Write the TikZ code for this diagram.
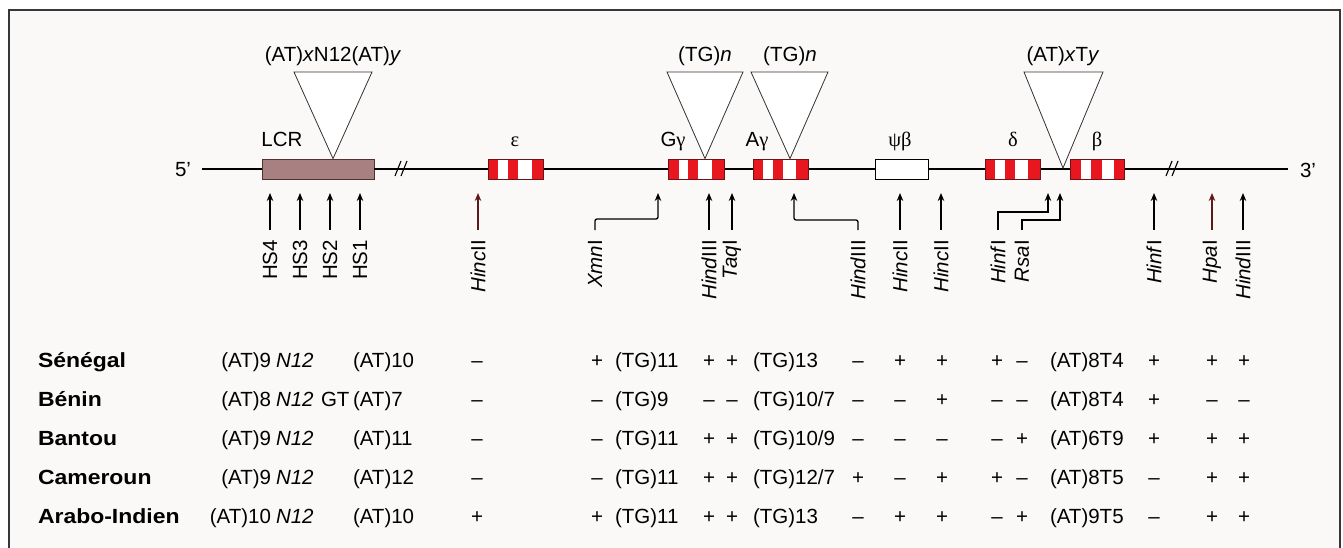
\documentclass[tikz,border=0pt]{standalone}
\usepackage{fontspec}
\setmainfont{Liberation Sans}
\newfontfamily\grk{Liberation Serif}
\usepackage{graphicx}
\usetikzlibrary{arrows.meta}
\definecolor{bgc}{RGB}{251,248,248}
\definecolor{lcrc}{RGB}{168,128,130}
\definecolor{lcrl}{RGB}{80,50,50}
\definecolor{gred}{RGB}{232,22,30}
\definecolor{gline}{RGB}{110,20,20}
\definecolor{framec}{RGB}{55,55,55}
\definecolor{darkred}{RGB}{95,25,25}
\newcommand\ctry[1]{\scalebox{1.12}[1]{\bfseries #1}}
\newcommand\gene[7]{%
  \fill[gred] (#2,159) rectangle (#7,179);
  \fill[white] (#3,159) rectangle (#4,179);
  \fill[white] (#5,159) rectangle (#6,179);
  \node[gout, minimum width=#7pt-#2pt] (#1) at ({(#2+#7)/2},169) {};}
\newcommand\rowA[7]{% y, prefix, country, (AT)a, (AT)b, eps, xmn
  \node[L] (#2c) at (38,#1) {\ctry{#3}};
  \node[R] (#2a) at (271,#1) {#4};
  \node[L] (#2n) at (276,#1) {\textit{N12}};
  \node[L] (#2b) at (353,#1) {#5};
  \node[C] (#2e) at (477,#1) {#6};
  \node[C] (#2x) at (597,#1) {#7};}
\newcommand\rowB[9]{% y, prefix, TG, hind, taq, TG2, hind2, hinc, hinc
  \node[L] (#2t) at (615,#1) {#3};
  \node[C] (#2h) at (709,#1) {#4};
  \node[C] (#2q) at (732,#1) {#5};
  \node[L] (#2u) at (753,#1) {#6};
  \node[C] (#2k) at (858,#1) {#7};
  \node[C] (#2i) at (900,#1) {#8};
  \node[C] (#2j) at (942,#1) {#9};}
\newcommand\rowC[8]{% y, prefix, hinf, rsa, ATT, hinf2, hpa, hind3
  \node[C] (#2f) at (997,#1) {#3};
  \node[C] (#2r) at (1022,#1) {#4};
  \node[L] (#2v) at (1050,#1) {#5};
  \node[C] (#2g) at (1154,#1) {#6};
  \node[C] (#2p) at (1212,#1) {#7};
  \node[C] (#2d) at (1244,#1) {#8};}
\begin{document}
\begin{tikzpicture}[x=1pt,y=-1pt,
  every node/.style={font=\fontsize{20.5}{24}\selectfont, inner sep=0pt, outer sep=0pt},
  L/.style={anchor=base west},
  C/.style={anchor=base},
  R/.style={anchor=base east},
  gout/.style={draw=gline, line width=0.8pt, minimum height=20pt, inner sep=0pt},
  tri/.style={draw=black!80, line width=0.8pt, fill=white},
  rl/.style={rotate=90, anchor=east},
  arr/.style={line width=1.3pt, -{Stealth[length=8pt,width=6.5pt]}},
  brk/.style={line width=1.1pt}]
\useasboundingbox (0,0) rectangle (1343,548);
\fill[white] (0,0) rectangle (1343,548);
\fill[bgc] (9,10) rectangle (1340,560);
\draw[framec, line width=1.6pt] (9,560) -- (9,10) -- (1340,10) -- (1340,560);

% main line
\node[draw=lcrl, line width=0.8pt, fill=lcrc, minimum width=112pt, minimum height=20pt] (LCR) at (318,169) {};
\coordinate (L0) at (202,169);
\coordinate (L1) at (1288,169);
\draw[line width=2.4pt] (L0) -- (LCR.west);
\draw[line width=1.4pt] (LCR.east) -- (L1);
\draw[brk] (395,176) -- (401,161) (401,176) -- (407,161);
\draw[brk] (1166,176) -- (1172,161) (1172,176) -- (1178,161);
\node (p5) at (183,170) {5'};
\node (p3) at (1308,170) {3'};

% genes
\gene{eps}{488}{498}{508}{518}{532}{543}
\gene{Gg}{668}{679}{688}{698}{712}{724}
\gene{Ag}{753}{763}{773}{783}{796}{808}
\node[draw=black, line width=0.8pt, fill=white, minimum width=53pt, minimum height=20pt] (psi) at (901.5,169) {};
\gene{del}{985}{995}{1005}{1015}{1028}{1040}
\gene{bet}{1070}{1081}{1091}{1102}{1114}{1124}

% triangles
\draw[tri] (294,72) -- (372,72) -- (333,158.6) -- cycle;
\draw[tri] (667,72) -- (743,72) -- (705,158.6) -- cycle;
\draw[tri] (751,72) -- (828,72) -- (790,158.6) -- cycle;
\draw[tri] (1024,72) -- (1103,72) -- (1063,168) -- cycle;

% top labels
\node[C] (t1) at (333,62) {(AT)\textit{x}N12(AT)\textit{y}};
\node[C] (t2) at (705,62) {(TG)\textit{n}};
\node[C] (t3) at (790,62) {(TG)\textit{n}};
\node[C] (t4) at (1063,62) {(AT)\textit{x}T\textit{y}};

% gene labels
\node[C] (lLCR) at (282,147) {LCR};
\node[C] (lE) at (515,147) {\grk ε};
\node[C] (lG) at (673,147) {G{\grk γ}};
\node[C] (lA) at (757,147) {A{\grk γ}};
\node[C] (lP) at (900,147) {\grk ψβ};
\node[C] (lD) at (1013,147) {\grk δ};
\node[C] (lB) at (1097,147) {\grk β};

% site arrows
\foreach \n/\x/\t in {hs4/270/HS4, hs3/300/HS3, hs2/330/HS2, hs1/360/HS1,
    hindA/709/\textit{Hind}III, taq/732/\textit{Taq}I,
    hincB/900/\textit{Hinc}II, hincC/941/\textit{Hinc}II,
    hinfB/1154/\textit{Hinf}I, hindC/1243/\textit{Hind}III}{
  \node[rl] (\n) at (\x,240) {\t};
  \coordinate (\n tip) at (\x,193);
  \draw[arr, shorten <=10pt] (\n.east) -- (\n tip);
}
\node[rl] (hincA) at (478,240) {\textit{Hinc}II};
\coordinate (hincAtip) at (478,193);
\draw[arr, darkred, shorten <=10pt] (hincA.east) -- (hincAtip);
\node[rl] (hpa) at (1212,240) {\textit{Hpa}I};
\coordinate (hpatip) at (1212,193);
\draw[arr, darkred, shorten <=10pt] (hpa.east) -- (hpatip);

% bent arrows
\node[rl] (xmn) at (595,240) {\textit{Xmn}I};
\coordinate (xmntip) at (658,193);
\draw[arr, rounded corners=2pt] ([yshift=10pt]xmn.east) |- (658,219) -- (xmntip);
\node[rl] (hindB) at (858,240) {\textit{Hind}III};
\coordinate (hindBtip) at (794,193);
\draw[arr, rounded corners=2pt] ([yshift=10pt]hindB.east) |- (794,220) -- (hindBtip);
\node[rl] (hinfA) at (998,240) {\textit{Hinf}I};
\coordinate (hinfAtip) at (1048,193);
\draw[arr] ([yshift=10pt]hinfA.east) |- (1048,212) -- (hinfAtip);
\node[rl] (rsa) at (1022,240) {\textit{Rsa}I};
\coordinate (rsatip) at (1060,193);
\draw[arr] ([yshift=10pt]rsa.east) |- (1060,220) -- (rsatip);

% table
\rowA{367}{s}{Sénégal}{(AT)9}{(AT)10}{–}{+}
\rowB{367}{s}{(TG)11}{+}{+}{(TG)13}{–}{+}{+}
\rowC{367}{s}{+}{–}{(AT)8T4}{+}{+}{+}

\rowA{406}{b}{Bénin}{(AT)8}{(AT)7}{–}{–}
\node[L] (bgt) at (321,406) {GT};
\rowB{406}{b}{(TG)9}{–}{–}{(TG)10/7}{–}{–}{+}
\rowC{406}{b}{–}{–}{(AT)8T4}{+}{–}{–}

\rowA{445}{n}{Bantou}{(AT)9}{(AT)11}{–}{–}
\rowB{445}{n}{(TG)11}{+}{+}{(TG)10/9}{–}{–}{–}
\rowC{445}{n}{–}{+}{(AT)6T9}{+}{+}{+}

\rowA{484}{m}{Cameroun}{(AT)9}{(AT)12}{–}{–}
\rowB{484}{m}{(TG)11}{+}{+}{(TG)12/7}{+}{–}{+}
\rowC{484}{m}{+}{–}{(AT)8T5}{–}{+}{+}

\rowA{523}{a}{Arabo-Indien}{(AT)10}{(AT)10}{+}{+}
\rowB{523}{a}{(TG)11}{+}{+}{(TG)13}{–}{+}{+}
\rowC{523}{a}{–}{+}{(AT)9T5}{–}{+}{+}
\end{tikzpicture}
\end{document}
